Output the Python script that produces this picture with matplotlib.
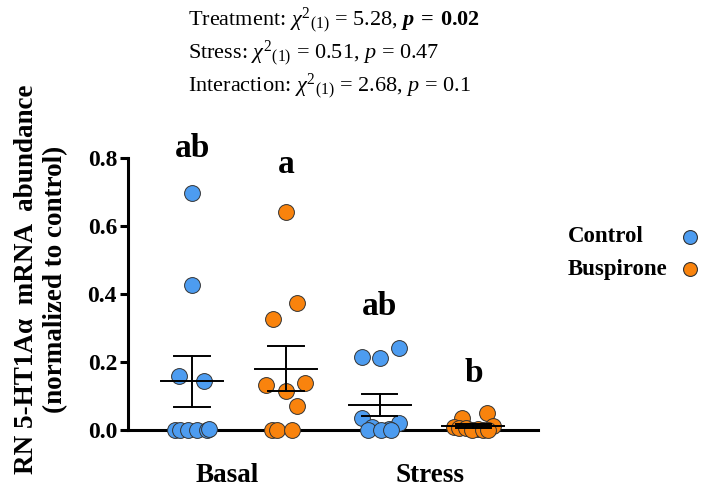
import numpy as np
import matplotlib.pyplot as plt
from matplotlib.lines import Line2D

plt.rcParams['font.family'] = ['Liberation Serif', 'DejaVu Serif']
plt.rcParams['mathtext.fontset'] = 'custom'
plt.rcParams['mathtext.rm'] = 'Liberation Serif'
plt.rcParams['mathtext.it'] = 'Liberation Serif:italic'
plt.rcParams['mathtext.bf'] = 'Liberation Serif:bold'
plt.rcParams['mathtext.bfit'] = 'Liberation Serif:italic:bold'

# data (10 animals per group)
basal_control = [0.698, 0.428, 0.160, 0.145, 0.0, 0.0, 0.0, 0.0, 0.0, 0.004]
basal_buspirone = [0.642, 0.373, 0.326, 0.139, 0.132, 0.116, 0.072, 0.0, 0.0, 0.0]
stress_control = [0.240, 0.216, 0.211, 0.035, 0.021, 0.008, 0.004, 0.0, 0.0, 0.0]
stress_buspirone = [0.051, 0.034, 0.012, 0.008, 0.005, 0.005, 0.003, 0.0, 0.0, 0.0]

groups = [basal_control, basal_buspirone, stress_control, stress_buspirone]
group_colors = ['#4d9cf0', '#f9830d', '#4d9cf0', '#f9830d']
letters = ['ab', 'a', 'ab', 'b']
letter_y = [0.803, 0.756, 0.338, 0.142]
conditions = ['Basal', 'Stress']
stats_lines = [
    r'Treatment: $\chi^{2}{}_{\mathit{(1)}}$ = 5.28, $\mathbfit{p}\mathbf{\:=\:0.02}$',
    r'Stress: $\chi^{2}{}_{\mathit{(1)}}$ = 0.51, $\mathit{p}$ = 0.47',
    r'Interaction: $\chi^{2}{}_{\mathit{(1)}}$ = 2.68, $\mathit{p}$ = 0.1',
]

# horizontal scatter of the dots inside each column (layout only)
jitter = [
    [0, 0, -0.14, 0.13, -0.18, -0.13, -0.04, 0.05, 0.16, 0.18],
    [0, 0.12, -0.14, 0.2, -0.21, 0, 0.12, -0.15, -0.1, 0.07],
    [0.21, -0.19, 0, -0.19, 0.21, -0.08, 0.1, -0.12, 0.01, 0.12],
    [0.14, -0.12, 0.21, -0.21, -0.15, -0.08, 0.05, -0.02, 0.1, 0.16],
]

fig = plt.figure(figsize=(7.08, 4.93), dpi=100)
ax = fig.add_axes([0.181, 0.1002, 0.579, 0.593])

for i, vals in enumerate(groups):
    xc = i + 1
    xs = xc + np.array(jitter[i])
    ax.scatter(xs, vals, s=130, color=group_colors[i], edgecolor='#333333',
               linewidth=0.7, zorder=3, clip_on=False)
    m = np.mean(vals)
    sem = np.std(vals, ddof=1) / np.sqrt(len(vals))
    ax.plot([xc - 0.33, xc + 0.33], [m, m], color='black', lw=1.4, zorder=4)
    ax.plot([xc, xc], [m - sem, m + sem], color='black', lw=1.4, zorder=4)
    for y in (m - sem, m + sem):
        ax.plot([xc - 0.19, xc + 0.19], [y, y], color='black', lw=1.4, zorder=4)
    ax.text(xc, letter_y[i], letters[i], ha='center', va='baseline',
            fontsize=24, fontweight='bold')

ax.set_xlim(0.317, 4.69)
ax.set_ylim(-0.04, 0.82)
ax.spines['top'].set_visible(False)
ax.spines['right'].set_visible(False)
ax.spines['bottom'].set_position(('data', 0))
ax.spines['left'].set_bounds(0, 0.8)
ax.spines['left'].set_linewidth(2.2)
ax.spines['bottom'].set_linewidth(2.2)
ax.set_yticks([0.0, 0.2, 0.4, 0.6, 0.8])
ax.set_yticklabels(['0.0', '0.2', '0.4', '0.6', '0.8'])
ax.tick_params(axis='y', length=6, width=2.2, labelsize=17, pad=2)
for t in ax.get_yticklabels():
    t.set_fontweight('bold')
ax.set_xticks([1.37, 3.54])
ax.set_xticklabels(conditions, fontsize=19.5, fontweight='bold')
ax.tick_params(axis='x', length=0, pad=24)

fig.text(0.058, 0.434, 'RN 5-HT1A\u03b1  mRNA  abundance\n(normalized to control)',
         rotation=90, ha='center', va='center', fontsize=19.5,
         fontweight='bold', linespacing=1.2)

for k, line in enumerate(stats_lines):
    fig.text(0.265, 1 - (20 + 33 * k) / 493, line, ha='left', va='center',
             fontsize=16)

legend_labels = ['Control', 'Buspirone']
legend_colors = ['#4d9cf0', '#f9830d']
for k, lab in enumerate(legend_labels):
    yk = 1 - (237 + 32 * k) / 493
    fig.text(568 / 708, yk, lab, ha='left', va='center', fontsize=16.5,
             fontweight='bold')
    fig.add_artist(Line2D([690 / 708], [yk], marker='o', markersize=10,
                          color=legend_colors[k], markeredgecolor='#333333',
                          markeredgewidth=0.8, transform=fig.transFigure))

fig.savefig('out.png', dpi=100)
